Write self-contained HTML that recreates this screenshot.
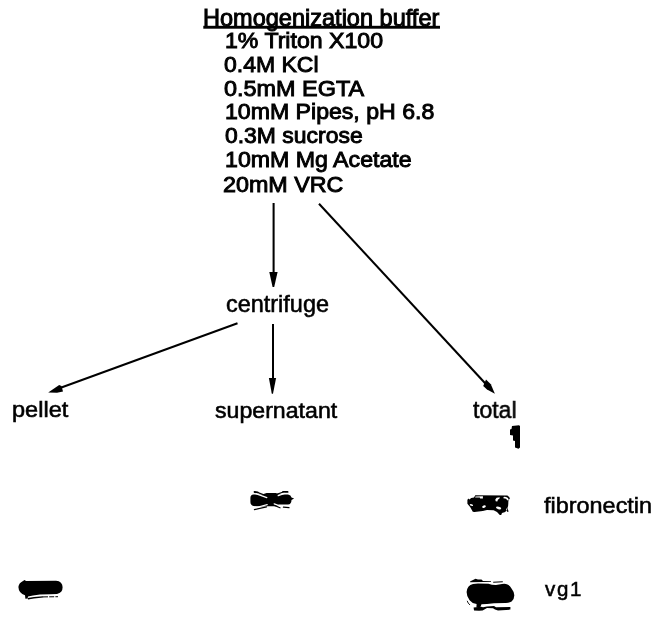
<!DOCTYPE html>
<html><head><meta charset="utf-8"><title>Homogenization buffer</title>
<style>
html,body{margin:0;padding:0;background:#fff;}
body{width:661px;height:623px;position:relative;overflow:hidden;font-family:"Liberation Sans",Arial,Helvetica,sans-serif;color:#000;}
.t{position:absolute;white-space:nowrap;transform-origin:0 0;will-change:transform;}
svg{position:absolute;left:0;top:0;}
</style></head><body>
<div class="t" style="left:203.39px;top:6.90px;font-size:23.2px;line-height:23.2px;transform:scaleX(1.0147);-webkit-text-stroke:0.95px #000;letter-spacing:0px;">Homogenization buffer</div>
<div class="t" style="left:225.49px;top:29.00px;font-size:22.8px;line-height:22.8px;transform:scaleX(1.0135);-webkit-text-stroke:0.95px #000;letter-spacing:0px;">1% Triton X100</div>
<div class="t" style="left:223.80px;top:52.90px;font-size:22.8px;line-height:22.8px;transform:scaleX(1.0086);-webkit-text-stroke:0.95px #000;letter-spacing:0px;">0.4M KCl</div>
<div class="t" style="left:223.80px;top:76.60px;font-size:22.8px;line-height:22.8px;transform:scaleX(1.0277);-webkit-text-stroke:0.95px #000;letter-spacing:0px;">0.5mM EGTA</div>
<div class="t" style="left:225.09px;top:100.00px;font-size:22.8px;line-height:22.8px;transform:scaleX(1.0132);-webkit-text-stroke:0.95px #000;letter-spacing:0px;">10mM Pipes, pH 6.8</div>
<div class="t" style="left:224.80px;top:124.10px;font-size:22.8px;line-height:22.8px;transform:scaleX(1.0058);-webkit-text-stroke:0.95px #000;letter-spacing:0px;">0.3M sucrose</div>
<div class="t" style="left:225.08px;top:148.00px;font-size:22.8px;line-height:22.8px;transform:scaleX(1.0159);-webkit-text-stroke:0.95px #000;letter-spacing:0px;">10mM Mg Acetate</div>
<div class="t" style="left:222.78px;top:172.80px;font-size:22.8px;line-height:22.8px;transform:scaleX(1.0224);-webkit-text-stroke:0.95px #000;letter-spacing:0px;">20mM VRC</div>
<div class="t" style="left:225.89px;top:292.90px;font-size:23.2px;line-height:23.2px;transform:scaleX(1.0110);-webkit-text-stroke:0.55px #000;letter-spacing:0px;">centrifuge</div>
<div class="t" style="left:12.00px;top:399.80px;font-size:21.4px;line-height:21.4px;transform:scaleX(1.1000);-webkit-text-stroke:0.55px #000;letter-spacing:0px;">pellet</div>
<div class="t" style="left:214.50px;top:400.80px;font-size:21.4px;line-height:21.4px;transform:scaleX(1.0814);-webkit-text-stroke:0.55px #000;letter-spacing:0px;">supernatant</div>
<div class="t" style="left:473.00px;top:398.60px;font-size:23.2px;line-height:23.2px;transform:scaleX(0.9930);-webkit-text-stroke:0.55px #000;letter-spacing:0px;">total</div>
<div class="t" style="left:544.10px;top:493.60px;font-size:22.7px;line-height:22.7px;transform:scaleX(1.0327);-webkit-text-stroke:0.55px #000;letter-spacing:0px;">fibronectin</div>
<div class="t" style="left:544.90px;top:579.00px;font-size:20.5px;line-height:20.5px;transform:scaleX(1.0000);-webkit-text-stroke:0.55px #000;letter-spacing:1.65px;">vg1</div>
<svg width="661" height="623" viewBox="0 0 661 623">
<!-- underline -->
<rect x="203.3" y="25.8" width="236.7" height="2.9" fill="#000"/>
<g stroke="#000" stroke-width="2.05" fill="none">
<line x1="273.6" y1="203" x2="273.6" y2="274"/>
<line x1="319" y1="203.7" x2="487" y2="385.3"/>
<line x1="273" y1="324" x2="273" y2="380"/>
<line x1="237.5" y1="323.3" x2="60" y2="388"/>
</g>
<g fill="#000">
<polygon points="269.3,272.1 277.6,272.1 274.2,286.9 272.6,286.9"/>
<polygon points="268.9,378 276.1,378 273,393.7 271.8,393.7"/>
<polygon points="486,379.5 490.8,384.3 494.9,393.7 487,389.6 483.2,386"/>
<polygon points="48.2,392.5 59.2,385.1 61.5,386 63,391.4 57,392.8"/>
<!-- mark under total -->
<polygon points="512,426 519,425.3 520,426 520,447.5 518.5,448.7 515,447.5 515,441 513,440.5 513,435.5 510,435 510,429.5 511.5,429"/>
</g>

<!-- blot A: supernatant / fibronectin -->
<g id="blotA">
<path fill="#000" d="M250.4,498 Q250.4,494.8 253.5,494.6 L262,494.6 L266.6,492.9 L275.8,492.9 L279,494.6 L288,494.6 Q291,495 291.5,497.6 L294.1,498.6 L291.5,500 Q291.4,504.4 288,504.6 L279,504.6 L275.8,506.3 L266.6,506.3 L261,506.6 L253.5,506 Q250.4,505.2 250.4,502 Z"/>
<g stroke="#000" fill="none" stroke-linecap="round">
<path stroke-width="1.2" d="M258,492.6 L267,496"/>
<path stroke-width="2" d="M254.6,492 L257.6,492.4"/>
<path stroke-width="1.2" d="M254.4,509.6 L266.6,506.8"/>
<path stroke-width="1.2" d="M276.6,494.4 L282.6,492.3"/>
<path stroke-width="1.8" d="M283,491.9 L287.6,491.9"/>
<path stroke-width="1.2" d="M274.3,505.4 L280,507.8"/>
<path stroke-width="1.2" d="M283.4,507.2 L289,507.6"/>
</g>
<g stroke="#fff" stroke-width="1.25" fill="none" stroke-linecap="round">
<line x1="255.8" y1="493.6" x2="266.8" y2="497.6"/>
<line x1="256.4" y1="507.5" x2="267.2" y2="504.6"/>
<line x1="278.2" y1="495.7" x2="284.6" y2="493.5"/>
<line x1="274.2" y1="503.8" x2="281.8" y2="506.5"/>
</g>
</g>

<!-- blot B: total / fibronectin -->
<g id="blotB">
<path fill="#000" d="M467.4,503.8 L467.4,499.8 L468.6,498.4 L469.3,499.4 Q471,497.8 474,497.6 L475.3,495.3 L507.4,495.4 Q509.6,496.6 509.9,498.9 L508.6,499.4 Q508.4,500.4 508.3,503 Q508.4,506.4 507.4,508 L508.6,511.6 L507.6,511.9 L506.2,510.6 L505.3,512.1 L502,513 L501.2,515 L499.8,515 L497,512.1 L493.6,510.2 L487,509.9 L482.8,510.9 L474.5,512.1 L472.8,511.7 L470.3,507.3 Z"/>
<g fill="#fff">
<path d="M475.5,496.4 L482.9,496.2 L482.9,498.5 L480.2,498.5 L479.8,497.4 L475.1,497.4 Z"/>
<ellipse cx="471.4" cy="505" rx="1.7" ry="0.9" transform="rotate(15 471.4 505)"/>
<ellipse cx="484" cy="506.6" rx="1.9" ry="1.1" transform="rotate(-20 484 506.6)"/>
<path d="M495.7,501.3 L495.3,499.4 L496.6,497.7 L499.8,497.2 L499.5,498.5 L497.9,499.7 L497.3,501.5 Z"/>
<ellipse cx="498.6" cy="508" rx="2.7" ry="1.2" transform="rotate(15 498.6 508)"/>
<path d="M503.6,496.9 Q507.6,496.5 508.7,499.5 L507.5,500.5 Q506.6,498.3 503.4,498.2 Z"/>
<path d="M507.2,508.4 L507.0,510.6 L506.2,510.2 L506.3,508.6 Z"/>
</g>
</g>

<!-- blot C: total / vg1 -->
<g id="blotC">
<path fill="#000" d="M466.6,592 Q467,585.6 473,584 L478,583.5 L488.5,583.7 Q492,585 496,584.9 L502,584 Q505,583.4 507.5,584.4 Q510,585.6 511.5,588.4 Q514.4,592 514.3,595.5 Q514.2,599.6 511.6,601.6 Q509,603.2 505,603 L494,603.2 L487,604 L481.5,604.2 L480.2,607.4 L476.4,607.4 L476.6,604 Q472,603.4 469.6,600.2 Q466.6,596.6 466.6,592 Z"/>
<path fill="#000" d="M470,581.6 L472.5,580.2 L475.5,578.8 L478,579.4 L481.5,579.6 L483,581 L491,581 L491,581.8 L483,581.9 L470.2,582.2 Z"/>
<path fill="none" stroke="#000" stroke-width="1.1" d="M493.2,582.3 L502.8,581.7"/>
<path fill="#000" d="M473.6,607.6 L481,606.8 L483,607.2 L487,606.4 L494,606 L496,607.2 L510.4,606.9 L510.4,609.6 L498,610.4 L495,609.6 L493,608.2 L487,608 L482.6,610.4 L479,610.8 L474,610.4 Z"/>
<path fill="none" stroke="#000" stroke-width="0.9" d="M467.2,600.8 Q467.8,603.2 470,605"/>
</g>

<!-- blot D: pellet / vg1 -->
<g id="blotD">
<path fill="#000" d="M18.4,587 Q18.7,583 23,581 L24.6,579.9 L26,580.9 L56,580.7 Q62.6,581.2 62.6,587.3 Q62.6,593 57,593.9 L50,594.2 L40,594.6 L33,595.6 L28,596.4 L27.6,598.6 L25.4,598.8 L25,595.3 Q18.7,593.4 18.4,587 Z"/>
<path fill="#000" d="M27.6,598 L34,597.1 L43,596.3 L43.2,597.4 L34,598.6 L28,599.6 Z"/>
<path fill="none" stroke="#000" stroke-width="1" stroke-dasharray="5 1.2" d="M43,596.9 L58,596.7"/>
</g>
</svg>

</body></html>
